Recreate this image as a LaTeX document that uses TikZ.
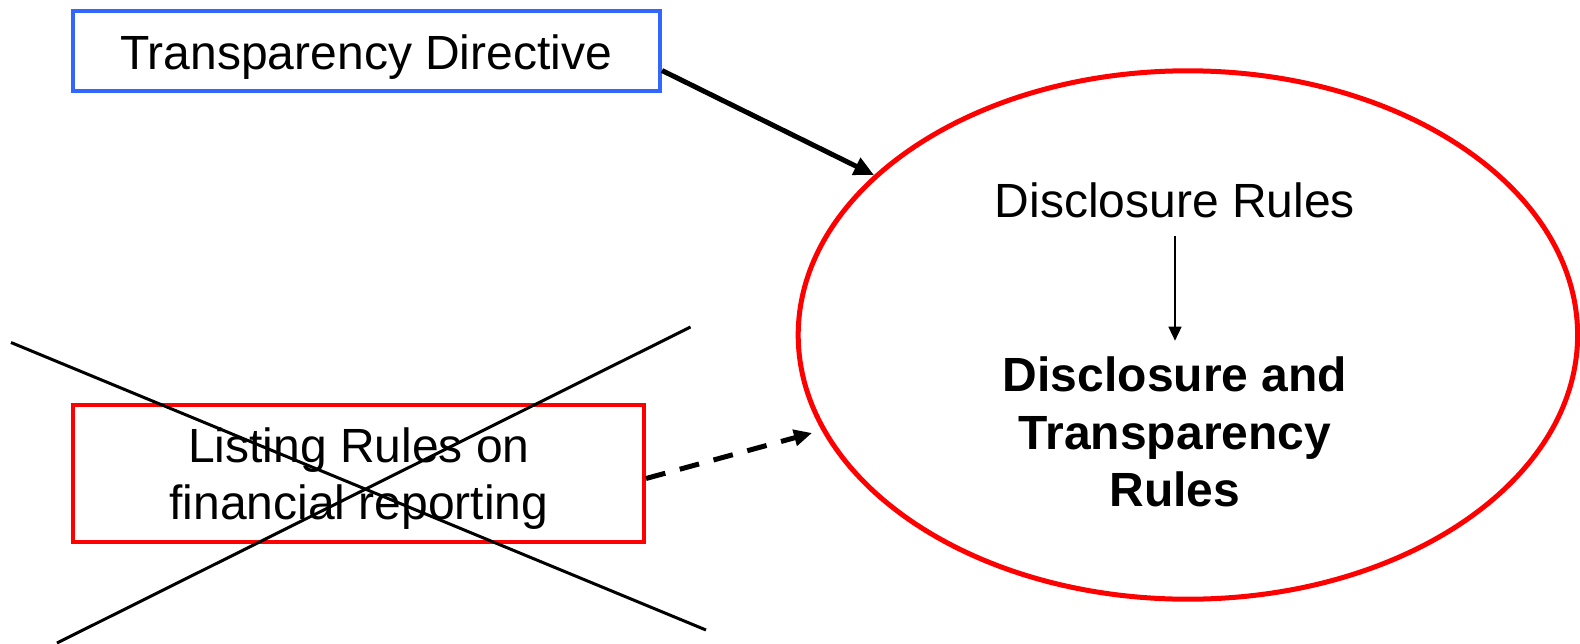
\documentclass[tikz,border=0pt]{standalone}
\usepackage{fontspec}
\setmainfont{Liberation Sans}
\usetikzlibrary{arrows.meta,shapes.geometric,calc}
\definecolor{frameblue}{RGB}{51,102,255}
\definecolor{framered}{RGB}{255,0,0}
\begin{document}
\begin{tikzpicture}[x=1pt,y=-1pt,
  txt/.style={font=\fontsize{48}{57.5}\selectfont, inner sep=0pt, align=center},
  bluebox/.style={draw=frameblue, line width=4pt, rectangle, inner sep=0pt},
  redbox/.style={draw=framered, line width=4pt, rectangle, inner sep=0pt},
  ruleoval/.style={draw=framered, line width=5pt, ellipse, inner sep=0pt},
  mainarrow/.style={line width=5pt, -{Triangle[length=20pt,width=18pt]}},
  dasharrow/.style={line width=5pt, dash pattern=on 20pt off 15pt, -{Triangle[length=18pt,width=16pt]}},
  thinarrow/.style={line width=1.5pt, -{Triangle[length=14pt,width=13pt]}},
  crossline/.style={line width=3pt}
]
\useasboundingbox (0,0) rectangle (1580,643);

% source boxes
\node[bluebox, txt, minimum width=587.5pt, minimum height=80pt,
      text height=36.6pt, text depth=0pt] (td) at (366.25,51) {Transparency Directive};
\node[redbox, minimum width=571.5pt, minimum height=137pt] (lr) at (358.25,473.5) {};
\node[txt] (lrtext) at (359,478.5) {Listing Rules on\\financial reporting};

% target oval with its contents
\node[ruleoval, minimum width=779.4pt, minimum height=528.4pt] (ell) at (1187.9,335) {};
\node[txt, anchor=base] (dr) at (1175,217.5) {Disclosure Rules};
\node[txt, font=\fontsize{48}{57.5}\selectfont\bfseries] (dtr) at (1175,432)
  {Disclosure and\\Transparency\\Rules};

% connectors
\coordinate (dashend) at (812,433);
\draw[mainarrow] ($(td.east)+(0,19.5)$) -- (ell.153);
\draw[dasharrow] ($(lr.east)+(0,5)$) -- (dashend);
\draw[thinarrow] ($(dr.south)+(0,18)$) -- ($(dtr.north)+(0,-16)$);

% strike-through cross over the listing rules box
\draw[crossline] (11,342.5) -- (706,630);
\draw[crossline] (57,643) -- (690.5,327);
\end{tikzpicture}
\end{document}
